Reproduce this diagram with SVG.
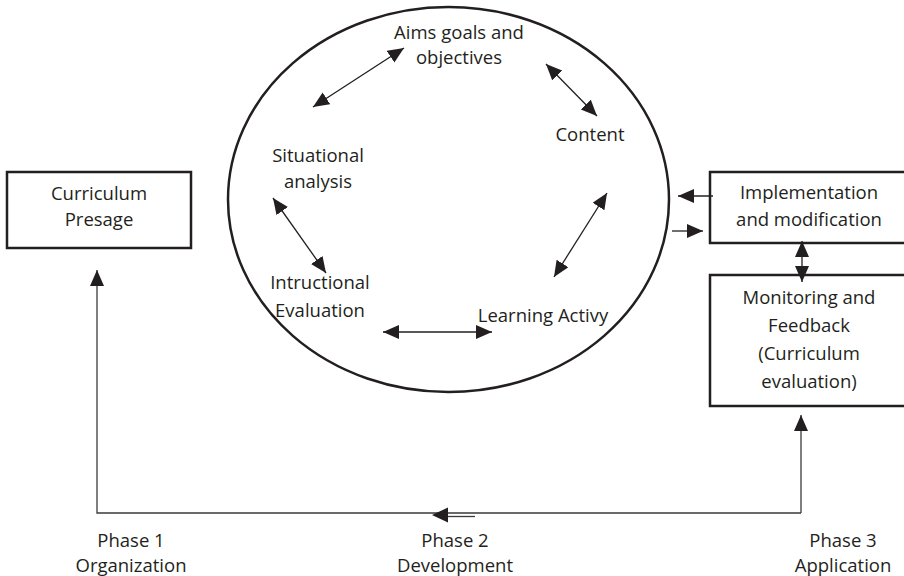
<svg xmlns="http://www.w3.org/2000/svg" width="904" height="576" viewBox="0 0 904 576">
<defs>
<style>
text{font-family:"Open Sans","Liberation Sans",sans-serif;font-size:18.5px;fill:#231f20;text-anchor:middle}
.box{fill:#fff;stroke:#231f20;stroke-width:2.5}
.ell{fill:none;stroke:#231f20;stroke-width:2.5}
.c{fill:none;stroke:#231f20;stroke-width:1.3}
.cg{fill:none;stroke:#3a3a3a;stroke-width:1.3}
</style>
<marker id="ah" markerUnits="userSpaceOnUse" markerWidth="17" markerHeight="15" refX="16" refY="7" orient="auto-start-reverse" viewBox="0 0 17 15">
<path d="M0,0 L16,7 L0,14 z" fill="#231f20"/>
</marker>
</defs>
<rect width="904" height="576" fill="#fff"/>

<g id="cycle">
<ellipse class="ell" cx="448.5" cy="199.5" rx="220.5" ry="192.5"/>
</g>

<g id="aims">
<text x="459" y="39">Aims goals and</text>
<text x="459" y="64">objectives</text>
</g>
<g id="content">
<text x="590" y="141">Content</text>
</g>
<g id="situational">
<text x="318" y="162">Situational</text>
<text x="318" y="188">analysis</text>
</g>
<g id="instructional">
<text x="320" y="289">Intructional</text>
<text x="320" y="317">Evaluation</text>
</g>
<g id="learning">
<text x="543" y="322">Learning Activy</text>
</g>

<g id="presage">
<rect class="box" x="7" y="172" width="184" height="76"/>
<text x="99" y="200">Curriculum</text>
<text x="99" y="226">Presage</text>
</g>

<g id="implementation">
<rect class="box" x="710" y="172" width="200" height="71"/>
<text x="809" y="199">Implementation</text>
<text x="809" y="226">and modification</text>
</g>

<g id="monitoring">
<rect class="box" x="710" y="275" width="200" height="131"/>
<text x="809" y="304">Monitoring and</text>
<text x="809" y="332">Feedback</text>
<text x="809" y="360">(Curriculum</text>
<text x="809" y="388">evaluation)</text>
</g>

<g id="phase1">
<text x="131" y="547">Phase 1</text>
<text x="131" y="572">Organization</text>
</g>
<g id="phase2">
<text x="455" y="547">Phase 2</text>
<text x="455" y="572">Development</text>
</g>
<g id="phase3">
<text x="843" y="547">Phase 3</text>
<text x="843" y="572">Application</text>
</g>

<g id="connectors">
<line class="c" x1="404" y1="48" x2="313" y2="107" marker-start="url(#ah)" marker-end="url(#ah)"/>
<line class="c" x1="546" y1="64" x2="597" y2="116" marker-start="url(#ah)" marker-end="url(#ah)"/>
<line class="c" x1="273" y1="198" x2="326" y2="273" marker-start="url(#ah)" marker-end="url(#ah)"/>
<line class="c" x1="607" y1="193" x2="554" y2="277" marker-start="url(#ah)" marker-end="url(#ah)"/>
<line class="c" x1="383" y1="332" x2="492" y2="332" marker-start="url(#ah)" marker-end="url(#ah)"/>
<line class="c" x1="713" y1="196" x2="678" y2="196" marker-end="url(#ah)"/>
<line class="c" x1="672" y1="231" x2="703" y2="231" marker-end="url(#ah)"/>
<line class="c" x1="802" y1="241" x2="802" y2="282" marker-start="url(#ah)" marker-end="url(#ah)"/>
<polyline class="cg" points="801,513 97,513 97,270" marker-end="url(#ah)"/>
<line class="cg" x1="801" y1="513" x2="801" y2="415" marker-end="url(#ah)"/>
<line class="cg" x1="446" y1="516.5" x2="475" y2="516.5"/>
<path d="M432,515 L448,507.5 L448,522.5 z" fill="#231f20"/>
</g>
</svg>
